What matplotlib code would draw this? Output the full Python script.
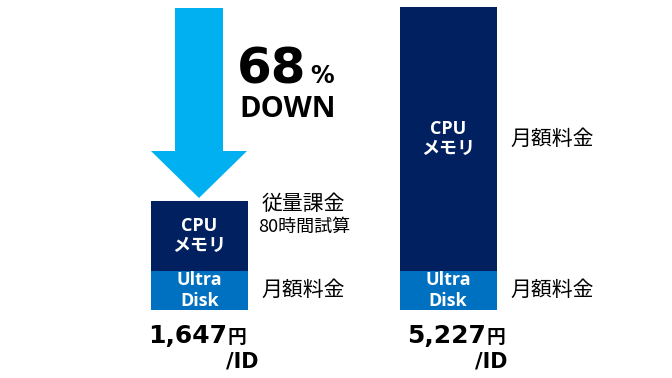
import matplotlib
matplotlib.use("Agg")
import matplotlib.pyplot as plt
from matplotlib.patches import FancyArrow

plt.rcParams['font.family'] = ['Noto Sans CJK JP', 'DejaVu Sans']
WIDE = ['DejaVu Sans', 'Noto Sans CJK JP']
OPEN = ['Open Sans', 'Noto Sans CJK JP']

# ---- data ----
plans = ["従量課金", "月額固定"]
disk_values = [665, 665]          # Ultra Disk segment (monthly)
cpu_values = [1210, 4562]         # CPU / memory segment
prices = ["1,647", "5,227"]
disk_side = ["月額料金", "月額料金"]
cpu_side = ["従量課金\n80時間試算", "月額料金"]
reduction = "68"

NAVY = "#002060"
BLUE = "#0070C0"
CYAN = "#00B0F0"

W, H = 672, 378
fig = plt.figure(figsize=(W / 100, H / 100), dpi=100)

ax = fig.add_axes([0, 0, 1, 1])
px_per_unit_x = 248.8
x0_px = 199.2
ax.set_xlim(-x0_px / px_per_unit_x, (W - x0_px) / px_per_unit_x)
k = 5227 / 302.5            # value units per pixel
base_from_bottom = H - 309.5
ax.set_ylim(-base_from_bottom * k, (H - base_from_bottom) * k)
ax.axis("off")

xs = list(range(len(plans)))
bw = 97 / px_per_unit_x
ax.bar(xs, disk_values, width=bw, color=BLUE, edgecolor="none")
ax.bar(xs, cpu_values, width=bw, bottom=disk_values, color=NAVY, edgecolor="none")

white_bold = dict(color="white", fontweight="bold", ha="center", va="center",
                  fontsize=13, linespacing=1.2, family=OPEN)
for x, d, c, ds, cs in zip(xs, disk_values, cpu_values, disk_side, cpu_side):
    ax.text(x, d / 2, "Ultra\nDisk", **white_bold)
    ax.text(x, d + c / 2, "CPU\nメモリ", **white_bold)
    right = x + bw / 2
    ax.annotate(ds, (right, d / 2), xytext=(10, 0), textcoords="offset points",
                ha="left", va="center", fontsize=15, color="black")
    if "\n" in cs:
        l1, l2 = cs.split("\n")
        ax.annotate(l1, (right, d + c), xytext=(10, -2), textcoords="offset points",
                    ha="left", va="center", fontsize=15, color="black")
        ax.annotate(l2, (right, d + c), xytext=(7.5, -19), textcoords="offset points",
                    ha="left", va="center", fontsize=13, color="black")
    else:
        ax.annotate(cs, (right, d + c / 2), xytext=(10, 0), textcoords="offset points",
                    ha="left", va="center", fontsize=15, color="black")

# price labels below bars
price_shift = [20, 27.5]
for x, pr, sh in zip(xs, prices, price_shift):
    ax.annotate(pr, (x, 0), xytext=(sh, -24), textcoords="offset points",
                ha="right", va="baseline", fontsize=18, fontweight="bold", color="black",
                family=WIDE)
    ax.annotate("円", (x, 0), xytext=(sh + 0.5, -24), textcoords="offset points",
                ha="left", va="baseline", fontsize=13.5, fontweight="bold", color="black")
    ax.annotate("/ID", (x, 0), xytext=(43, -42), textcoords="offset points",
                ha="right", va="baseline", fontsize=15, fontweight="bold", color="black",
                family=WIDE)

# overlay in pixel coordinates for the arrow and headline
ov = fig.add_axes([0, 0, 1, 1])
ov.set_xlim(0, W)
ov.set_ylim(H, 0)
ov.axis("off")
ov.patch.set_alpha(0)
ov.add_patch(FancyArrow(199, 8, 0, 190, width=48, head_width=96, head_length=47,
                        length_includes_head=True, color=CYAN, linewidth=0))
ov.text(237, 83, reduction, fontsize=36, fontweight="bold", ha="left", va="baseline",
        family=WIDE)
ov.text(310, 83, "%", fontsize=17, fontweight="bold", ha="left", va="baseline",
        family=WIDE)
ov.text(239, 117, "DOWN", fontsize=21, fontweight="bold", ha="left", va="baseline",
        family=OPEN)

fig.savefig("out.png", dpi=100)
